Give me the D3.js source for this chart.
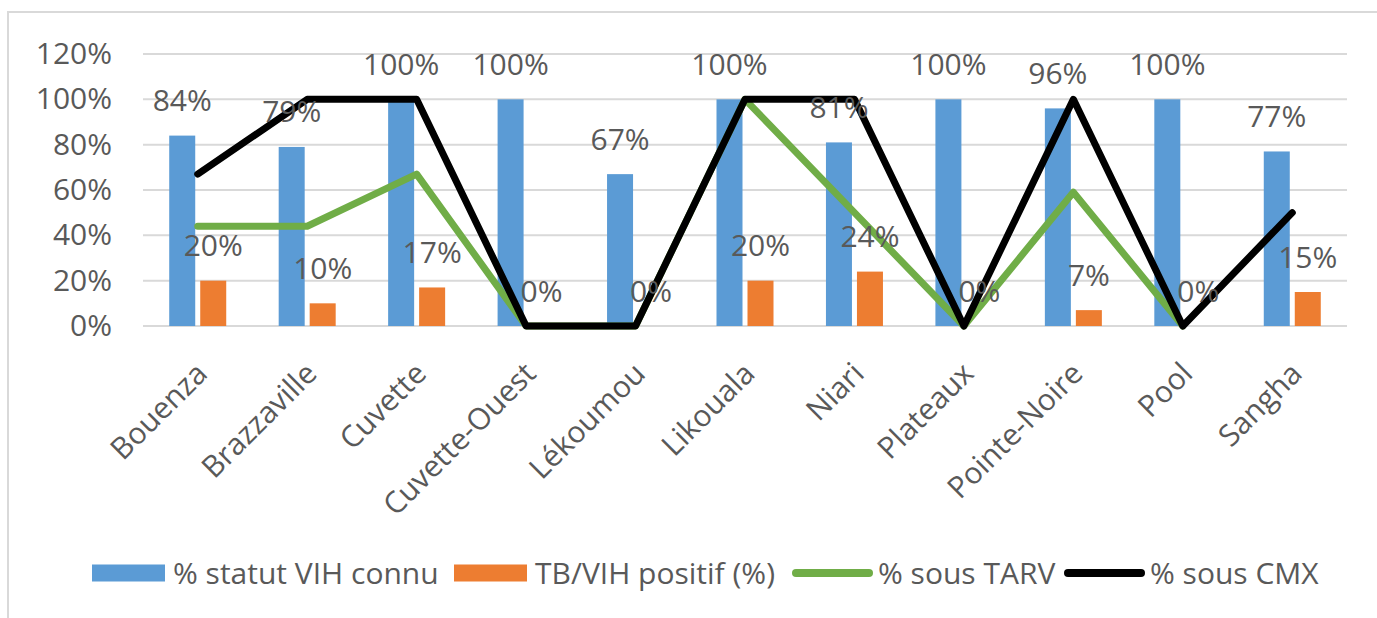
<!DOCTYPE html>
<html>
<head>
<meta charset="utf-8">
<script src="https://cdn.jsdelivr.net/npm/d3@7"></script>
<style>
  body { margin: 0; background: #ffffff; }
  svg text { font-family: "Open Sans", sans-serif; fill: #595959; }
</style>
</head>
<body>
<svg class="combo_chart"></svg>
<script>
// data
const regions = ['Bouenza', 'Brazzaville', 'Cuvette', 'Cuvette-Ouest', 'Lékoumou', 'Likouala',
                 'Niari', 'Plateaux', 'Pointe-Noire', 'Pool', 'Sangha'];
const statutConnu = [84, 79, 100, 100, 67, 100, 81, 100, 96, 100, 77];
const tbVihPositif = [20, 10, 17, 0, 0, 20, 24, 0, 7, 0, 15];
const sousTarv = [44, 44, 67, 0, 0, 100, 50, 0, 59, 0, null];
const sousCmx = [67, 100, 100, 0, 0, 100, 100, 0, 100, 0, 50];
const yTicks = [0, 20, 40, 60, 80, 100, 120];
const legendLabels = ['% statut VIH connu', 'TB/VIH positif (%)', '% sous TARV', '% sous CMX'];

const config = {
    svg: { width: 1377, height: 618 },
    plot: { left: 143, right: 1347, top: 54, bottom: 326 },
    barWidth: 26,
    fontSize: 30
};

const colors = { blue: '#5B9BD5', orange: '#ED7D31', green: '#70AD47', black: '#000000', grid: '#D9D9D9' };

let svg = d3.select('.combo_chart')
    .attr('width', config.svg.width)
    .attr('height', config.svg.height);

// chart frame (only top and left edges are visible)
svg.append('path')
    .attr('d', 'M8,' + config.svg.height + ' V12 H' + config.svg.width)
    .style('fill', 'none')
    .style('stroke', colors.grid)
    .style('stroke-width', 2);

let x = d3.scaleBand()
    .domain(regions)
    .range([config.plot.left, config.plot.right]);

let y = d3.scaleLinear()
    .domain([0, 120])
    .range([config.plot.bottom, config.plot.top]);

const cx = (d) => x(d) + x.bandwidth() / 2;

// gridlines
svg.append('g')
    .selectAll('line')
    .data(yTicks)
    .enter().append('line')
    .attr('x1', config.plot.left)
    .attr('x2', config.plot.right)
    .attr('y1', (d) => y(d))
    .attr('y2', (d) => y(d))
    .style('stroke', colors.grid)
    .style('stroke-width', 2);

// y axis labels
let yAxis = d3.axisLeft(y)
    .tickValues(yTicks)
    .tickFormat((d) => d + '%')
    .tickSize(0)
    .tickPadding(0);

svg.append('g')
    .attr('transform', 'translate(112,0)')
    .call(yAxis)
    .call((g) => g.select('.domain').remove())
    .selectAll('text')
    .attr('font-size', config.fontSize)
    .attr('font-family', null)
    .attr('fill', '#595959');

// x axis labels, rotated
svg.append('g')
    .selectAll('text')
    .data(regions)
    .enter().append('text')
    .attr('transform', (d) => 'translate(' + (cx(d) + 4) + ',368) rotate(-45)')
    .attr('text-anchor', 'end')
    .attr('dy', '0.35em')
    .style('font-size', config.fontSize + 'px')
    .text((d) => d);

// bars
const bw = config.barWidth;
svg.append('g')
    .selectAll('rect')
    .data(regions)
    .enter().append('rect')
    .attr('x', (d) => cx(d) - 28.5)
    .attr('width', bw)
    .attr('y', (d, i) => y(statutConnu[i]))
    .attr('height', (d, i) => y(0) - y(statutConnu[i]))
    .style('fill', colors.blue);

svg.append('g')
    .selectAll('rect')
    .data(regions)
    .enter().append('rect')
    .attr('x', (d) => cx(d) + 2.5)
    .attr('width', bw)
    .attr('y', (d, i) => y(tbVihPositif[i]))
    .attr('height', (d, i) => y(0) - y(tbVihPositif[i]))
    .style('fill', colors.orange);

// lines
function drawLine(values, color) {
    let line = d3.line()
        .defined((d) => d != null)
        .x((d, i) => cx(regions[i]))
        .y((d) => y(d));
    svg.append('path')
        .datum(values)
        .attr('d', line)
        .style('fill', 'none')
        .style('stroke', color)
        .style('stroke-width', 7)
        .style('stroke-linejoin', 'round')
        .style('stroke-linecap', 'round');
}
drawLine(sousTarv, colors.green);
drawLine(sousCmx, colors.black);

// data labels
svg.append('g')
    .selectAll('text')
    .data(regions)
    .enter().append('text')
    .attr('x', (d) => cx(d) - 28.5 + bw / 2)
    .attr('y', (d, i) => y(statutConnu[i]) - 35)
    .attr('dy', '0.35em')
    .attr('text-anchor', 'middle')
    .style('font-size', config.fontSize + 'px')
    .text((d, i) => statutConnu[i] + '%');

svg.append('g')
    .selectAll('text')
    .data(regions)
    .enter().append('text')
    .attr('x', (d) => cx(d) + 2.5 + bw / 2)
    .attr('y', (d, i) => y(tbVihPositif[i]) - 35)
    .attr('dy', '0.35em')
    .attr('text-anchor', 'middle')
    .style('font-size', config.fontSize + 'px')
    .text((d, i) => tbVihPositif[i] + '%');

// legend
const legendX = [92, 454, 792, 1064];
const legendY = 573;
let legend = svg.append('g').attr('class', 'legend');

legendLabels.forEach((label, i) => {
    let g = legend.append('g').attr('transform', 'translate(' + legendX[i] + ',' + legendY + ')');
    if (i < 2) {
        g.append('rect')
            .attr('x', 0)
            .attr('y', -8.5)
            .attr('width', 73)
            .attr('height', 17)
            .style('fill', i == 0 ? colors.blue : colors.orange);
        g.append('text')
            .attr('x', 81)
            .attr('dy', '0.35em')
            .style('font-size', config.fontSize + 'px')
            .text(label);
    } else {
        g.append('line')
            .attr('x1', 4)
            .attr('x2', 77)
            .style('stroke', i == 2 ? colors.green : colors.black)
            .style('stroke-width', 8)
            .style('stroke-linecap', 'round');
        g.append('text')
            .attr('x', 86)
            .attr('dy', '0.35em')
            .style('font-size', config.fontSize + 'px')
            .text(label);
    }
});
</script>
</body>
</html>
